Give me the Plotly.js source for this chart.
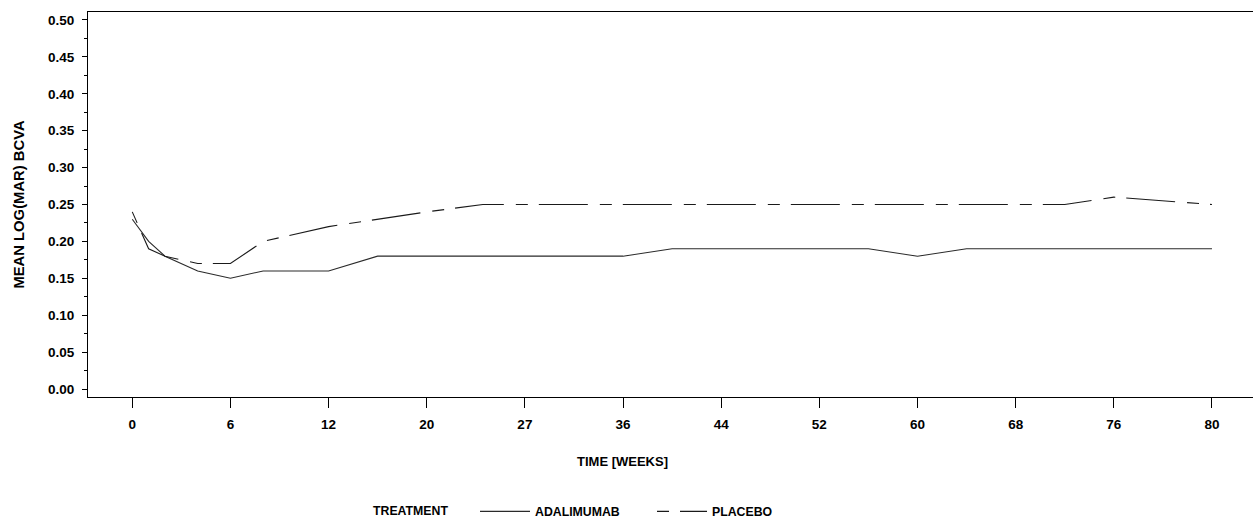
<!DOCTYPE html>
<html>
<head>
<meta charset="utf-8">
<script src="https://cdn.plot.ly/plotly-3.0.1.min.js"></script>
<style>html,body{margin:0;padding:0;background:#fff;}#chart{width:1253px;height:520px;}</style>
</head>
<body>
<div id="chart"></div>
<script>
// Visit weeks and tick labels
var tickWeeks = [0, 6, 12, 20, 27, 36, 44, 52, 60, 68, 76, 80];
var weeks = [0, 1, 2, 4, 6, 8, 12, 16, 20, 24, 28, 32, 36, 40, 44, 48, 52, 56, 60, 64, 68, 72, 76, 80];
// Mean LOG(MAR) BCVA per visit
var adalimumab = [0.23, 0.20, 0.18, 0.16, 0.15, 0.16, 0.16, 0.18, 0.18, 0.18, 0.18, 0.18, 0.18, 0.19, 0.19, 0.19, 0.19, 0.19, 0.18, 0.19, 0.19, 0.19, 0.19, 0.19];
var placebo    = [0.24, 0.19, 0.18, 0.17, 0.17, 0.20, 0.22, 0.23, 0.24, 0.25, 0.25, 0.25, 0.25, 0.25, 0.25, 0.25, 0.25, 0.25, 0.25, 0.25, 0.25, 0.25, 0.26, 0.25];
var yTicks = [0, 0.05, 0.10, 0.15, 0.20, 0.25, 0.30, 0.35, 0.40, 0.45, 0.50];

// The x axis is spaced evenly by tick, linear between ticks (scale transform)
function weekToAxis(w) {
  for (var i = 0; i < tickWeeks.length - 1; i++) {
    if (w <= tickWeeks[i + 1]) {
      return i + (w - tickWeeks[i]) / (tickWeeks[i + 1] - tickWeeks[i]);
    }
  }
  return tickWeeks.length - 1;
}
var xPos = weeks.map(weekToAxis);
var tickPos = tickWeeks.map(weekToAxis);

var FONT = "'Liberation Sans', Arial, Helvetica, sans-serif";

var traces = [
  {
    x: xPos, y: adalimumab, type: 'scatter', mode: 'lines', name: 'ADALIMUMAB',
    line: {color: '#2a2a2a', width: 1.1, dash: 'solid'},
    customdata: weeks, hovertemplate: 'Week %{customdata}: %{y:.2f}<extra>ADALIMUMAB</extra>'
  },
  {
    x: xPos, y: placebo, type: 'scatter', mode: 'lines', name: 'PLACEBO',
    line: {color: '#1a1a1a', width: 1.1, dash: '12px,11px,49px,12px'},
    customdata: weeks, hovertemplate: 'Week %{customdata}: %{y:.2f}<extra>PLACEBO</extra>'
  }
];

var layout = {
  width: 1253, height: 520,
  margin: {l: 88, r: 0, t: 12, b: 123, autoexpand: false},
  paper_bgcolor: '#fff', plot_bgcolor: '#fff',
  font: {family: FONT, size: 13, color: '#000', weight: 'bold'},
  showlegend: true,
  xaxis: {
    range: [-0.451, 11.418], automargin: false,
    tickmode: 'array', tickvals: tickPos, ticktext: tickWeeks.map(String),
    ticks: 'outside', ticklen: 10, tickwidth: 1, tickcolor: '#000',
    showline: true, linecolor: '#000', linewidth: 1, mirror: true,
    showgrid: false, zeroline: false,
    ticklabelstandoff: 5,
    tickfont: {family: FONT, size: 13.5, color: '#000', weight: 'bold'}
  },
  yaxis: {
    range: [-0.0108, 0.5108], automargin: false,
    tickmode: 'array', tickvals: yTicks, tickformat: '.2f',
    ticks: 'outside', ticklen: 5, tickwidth: 1, tickcolor: '#000',
    minor: {dtick: 0.025, ticks: 'outside', ticklen: 3, tickcolor: '#000', tickwidth: 1, showgrid: false},
    showline: true, linecolor: '#000', linewidth: 1, mirror: false,
    showgrid: false, zeroline: false,
    ticklabelstandoff: 5,
    tickfont: {family: FONT, size: 13.5, color: '#000', weight: 'bold'},
    title: {text: 'MEAN LOG(MAR) BCVA', standoff: 19, font: {family: FONT, size: 14.8, color: '#000', weight: 'bold'}}
  },
  annotations: [
    {
      text: 'TIME [WEEKS]', xref: 'paper', yref: 'paper',
      x: 0.459, y: -0.167, xanchor: 'center', yanchor: 'middle', showarrow: false,
      font: {family: FONT, size: 13, color: '#000', weight: 'bold'}
    },
    {
      text: 'TREATMENT', xref: 'paper', yref: 'paper',
      x: 0.2425, y: -0.297, xanchor: 'left', yanchor: 'middle', showarrow: false,
      font: {family: FONT, size: 12.3, color: '#000', weight: 'bold'}
    }
  ],
  legend: {
    orientation: 'h', x: 0.3322, y: -0.297, xanchor: 'left', yanchor: 'middle',
    font: {family: FONT, size: 12.3, color: '#000', weight: 'bold'},
    bgcolor: 'rgba(0,0,0,0)', itemwidth: 50, entrywidth: 112, entrywidthmode: 'pixels'
  }
};

Plotly.newPlot('chart', traces, layout, {displayModeBar: false});
</script>
</body>
</html>
